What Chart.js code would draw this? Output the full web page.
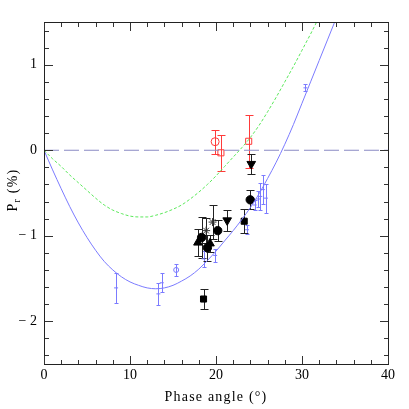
<!DOCTYPE html>
<html><head><meta charset="utf-8">
<script src="https://cdn.jsdelivr.net/npm/chart.js@4"></script>
<style>html,body{margin:0;padding:0;background:#fff}#wrap{width:409px;height:409px}</style>
</head><body><div id="wrap"><canvas id="c" width="409" height="409"></canvas></div>
<script>
// ---- tick labels ----
const xTicks = [0, 10, 20, 30, 40];
const yTicks = [-2, -1, 0, 1];

// ---- fitted curves ----
const blueCurveX = [0,1,2,3,4,5,6,7,8,9,10,11,12,13,14,15,16,17,18,19,20,21,22,23,24,25,26,27,28,29,30,31,32,33,34];
const blueCurveY = [0,-0.23,-0.45,-0.66,-0.85,-1.02,-1.17,-1.30,-1.40,-1.48,-1.54,-1.58,-1.61,-1.62,-1.61,-1.58,-1.53,-1.47,-1.39,-1.29,-1.18,-1.06,-0.94,-0.81,-0.67,-0.51,-0.33,-0.14,0.07,0.30,0.55,0.80,1.05,1.30,1.55];
const greenCurveX = [0,1,2,3,4,5,6,7,8,9,10,11,12,13,14,15,16,17,18,19,20,21,22,23,24,25,26,27,28,29,30,31,32];
const greenCurveY = [0,-0.10,-0.19,-0.29,-0.38,-0.47,-0.56,-0.64,-0.70,-0.74,-0.77,-0.78,-0.78,-0.76,-0.73,-0.69,-0.64,-0.57,-0.49,-0.40,-0.30,-0.19,-0.08,0.03,0.15,0.29,0.45,0.62,0.80,0.98,1.17,1.36,1.56];
const zeroLineX = [0, 40];
const zeroLineY = [0, 0];

// ---- blue small points ----
const blueX   = [8.38, 13.3, 13.7, 18.55, 19.9, 23.6, 24.5, 24.9, 25.15, 25.45, 25.8, 30.4];
const blueY   = [-1.61, -1.68, -1.55, -1.27, -1.23, -0.93, -0.64, -0.57, -0.54, -0.46, -0.56, 0.73];
const blueErr = [0.18, 0.13, 0.11, 0.09, 0.08, 0.05, 0.06, 0.09, 0.16, 0.17, 0.17, 0.04];
const blueCircX = [15.37], blueCircY = [-1.40], blueCircErr = [0.065];

// ---- black points ----
const sqX = [18.55, 23.28], sqY = [-1.74, -0.83], sqErr = [0.12, 0.14];
const circX = [23.98, 20.2, 18.33, 19.0], circY = [-0.58, -0.94, -1.02, -1.14], circErr = [0.11, 0.12, 0.24, 0.15];
const triX = [17.9, 19.3], triY = [-1.08, -1.09], triErr = [0.16, 0.10];
const invX = [21.3, 24.1], invY = [-0.82, -0.16], invErr = [0.12, 0.12];
const starX = [19.6, 18.85], starY = [-0.84, -0.94], starErr = [0.20, 0.15];

// ---- red points ----
const redCircX = [19.9], redCircY = [0.10], redCircErr = [0.14];
const redSqX = [20.57, 23.8], redSqY = [-0.03, 0.105], redSqErr = [0.21, 0.31];

const pts = (xs, ys) => xs.map((x, i) => ({x: x, y: ys[i]}));

const BLUE = '#7b7bff', GREEN = '#5be85b', RED = '#ff3a3a', BLACK = '#000';

function marker(label, xs, ys, errs, style, radius, opts) {
  return Object.assign({
    label: label, data: pts(xs, ys), errs: errs, showLine: false,
    pointStyle: style, pointRadius: radius, pointHoverRadius: radius,
    backgroundColor: BLACK, borderColor: BLACK, borderWidth: 1,
    errColor: '#222', cap: 4
  }, opts || {});
}

const datasets = [
  {label: 'zero', data: pts(zeroLineX, zeroLineY), showLine: true, pointRadius: 0, borderColor: '#8a8ac4', borderWidth: 1, borderDash: [15, 5], fill: false},
  {label: 'green', data: pts(greenCurveX, greenCurveY), showLine: true, pointRadius: 0, borderColor: GREEN, borderWidth: 1, borderDash: [3, 2], tension: 0.4, cubicInterpolationMode: 'monotone', fill: false},
  {label: 'blue', data: pts(blueCurveX, blueCurveY), showLine: true, pointRadius: 0, borderColor: BLUE, borderWidth: 1, tension: 0.4, cubicInterpolationMode: 'monotone', fill: false},
  marker('blue pts', blueX, blueY, blueErr, 'line', 2, {borderColor: BLUE, backgroundColor: BLUE, errColor: BLUE, cap: 2}),
  marker('blue circ', blueCircX, blueCircY, blueCircErr, 'circle', 2.5, {borderColor: BLUE, backgroundColor: 'rgba(0,0,0,0)', errColor: BLUE, cap: 2}),
  marker('red circ', redCircX, redCircY, redCircErr, 'circle', 4, {borderColor: RED, backgroundColor: 'rgba(0,0,0,0)', errColor: RED}),
  marker('red sq', redSqX, redSqY, redSqErr, 'rect', 4.3, {borderColor: RED, backgroundColor: 'rgba(0,0,0,0)', errColor: RED}),
  marker('sq', sqX, sqY, sqErr, 'rect', 4.3),
  marker('circ', circX, circY, circErr, 'circle', 4.2),
  marker('tri', triX, triY, triErr, 'triangle', 5),
  marker('inv', invX, invY, invErr, 'triangle', 5, {rotation: 180}),
  marker('star', starX, starY, starErr, 'star', 4, {borderColor: '#333', backgroundColor: '#333'})
];

const errorBars = {
  id: 'errorBars',
  beforeDatasetsDraw(chart) {
    const ctx = chart.ctx, xs = chart.scales.x, ys = chart.scales.y;
    ctx.save();
    chart.data.datasets.forEach((ds) => {
      if (!ds.errs) return;
      ctx.strokeStyle = ds.errColor; ctx.lineWidth = 1;
      ds.data.forEach((p, j) => {
        const e = ds.errs[j];
        const px = Math.round(xs.getPixelForValue(p.x)) + 0.5;
        const y1 = Math.round(ys.getPixelForValue(p.y + e)) + 0.5;
        const y2 = Math.round(ys.getPixelForValue(p.y - e)) + 0.5;
        ctx.beginPath();
        ctx.moveTo(px, y1); ctx.lineTo(px, y2);
        ctx.moveTo(px - ds.cap, y1); ctx.lineTo(px + ds.cap, y1);
        ctx.moveTo(px - ds.cap, y2); ctx.lineTo(px + ds.cap, y2);
        ctx.stroke();
      });
    });
    ctx.restore();
  }
};

const frame = {
  id: 'frame',
  afterDraw(chart) {
    const ctx = chart.ctx, a = chart.chartArea, xs = chart.scales.x, ys = chart.scales.y;
    ctx.save();
    ctx.setLineDash([]);
    ctx.fillStyle = '#222';
    const L = Math.round(a.left), R = Math.round(a.right), T = Math.round(a.top), B = Math.round(a.bottom);
    ctx.fillRect(L, T, R - L + 1, 1);
    ctx.fillRect(L, B, R - L + 1, 1);
    ctx.fillRect(L, T, 1, B - T + 1);
    ctx.fillRect(R, T, 1, B - T + 1);
    ctx.fillStyle = '#333';
    for (let k = 0; k <= 20; k++) {
      const v = k * 2, px = Math.round(xs.getPixelForValue(v)), len = (v % 10 === 0) ? 8 : 4;
      ctx.fillRect(px, B - len, 1, len);
      ctx.fillRect(px, T + 1, 1, len);
    }
    for (let k = -12; k <= 7; k++) {
      const v = k / 5, py = Math.round(ys.getPixelForValue(v)), len = (Math.abs(k) % 5 === 0) ? 8 : 4;
      ctx.fillRect(L + 1, py, len, 1);
      ctx.fillRect(R - len, py, len, 1);
    }
    ctx.fillStyle = '#000';
    ctx.font = '14px "Liberation Serif"';
    try { ctx.letterSpacing = '1.2px'; } catch (e) {}
    ctx.textAlign = 'center'; ctx.textBaseline = 'alphabetic';
    ctx.fillText('Phase angle (\u00B0)', (a.left + a.right) / 2, 401);
    ctx.translate(17, 190);
    ctx.rotate(-Math.PI / 2);
    ctx.textAlign = 'left';
    const f1 = '14px "Liberation Serif"', f2 = '10px "Liberation Serif"';
    ctx.font = f1; const wP = ctx.measureText('P').width, wT = ctx.measureText(' (%)').width;
    ctx.font = f2; const wr = ctx.measureText('r').width;
    let x0 = -(wP + wr + wT) / 2;
    ctx.font = f1; ctx.fillText('P', x0, 0); x0 += wP;
    ctx.font = f2; ctx.fillText('r', x0, 3); x0 += wr;
    ctx.font = f1; ctx.fillText(' (%)', x0, 0);
    ctx.restore();
  }
};

const fmtY = (v) => v < 0 ? '\u2212 ' + Math.abs(v) : String(v);

new Chart(document.getElementById('c'), {
  type: 'scatter',
  data: {datasets: datasets},
  options: {
    responsive: false, animation: false, devicePixelRatio: 1,
    layout: {padding: {left: 0, right: 21, top: 22, bottom: 0}},
    plugins: {legend: {display: false}, tooltip: {enabled: false}},
    scales: {
      x: {
        type: 'linear', min: 0, max: 40,
        grid: {display: false, drawTicks: false}, border: {display: false},
        afterBuildTicks: (s) => { s.ticks = xTicks.map(v => ({value: v})); },
        afterFit: (s) => { s.height = 45; },
        ticks: {padding: 3, color: '#000', font: {family: 'Liberation Serif', size: 14}, maxRotation: 0}
      },
      y: {
        type: 'linear', min: -2.5, max: 1.5,
        grid: {display: false, drawTicks: false}, border: {display: false},
        afterBuildTicks: (s) => { s.ticks = yTicks.map(v => ({value: v})); },
        afterFit: (s) => { s.width = 44; },
        ticks: {padding: 7, color: '#000', font: {family: 'Liberation Serif', size: 14}, callback: fmtY}
      }
    }
  },
  plugins: [errorBars, frame]
});
</script>
</body></html>
